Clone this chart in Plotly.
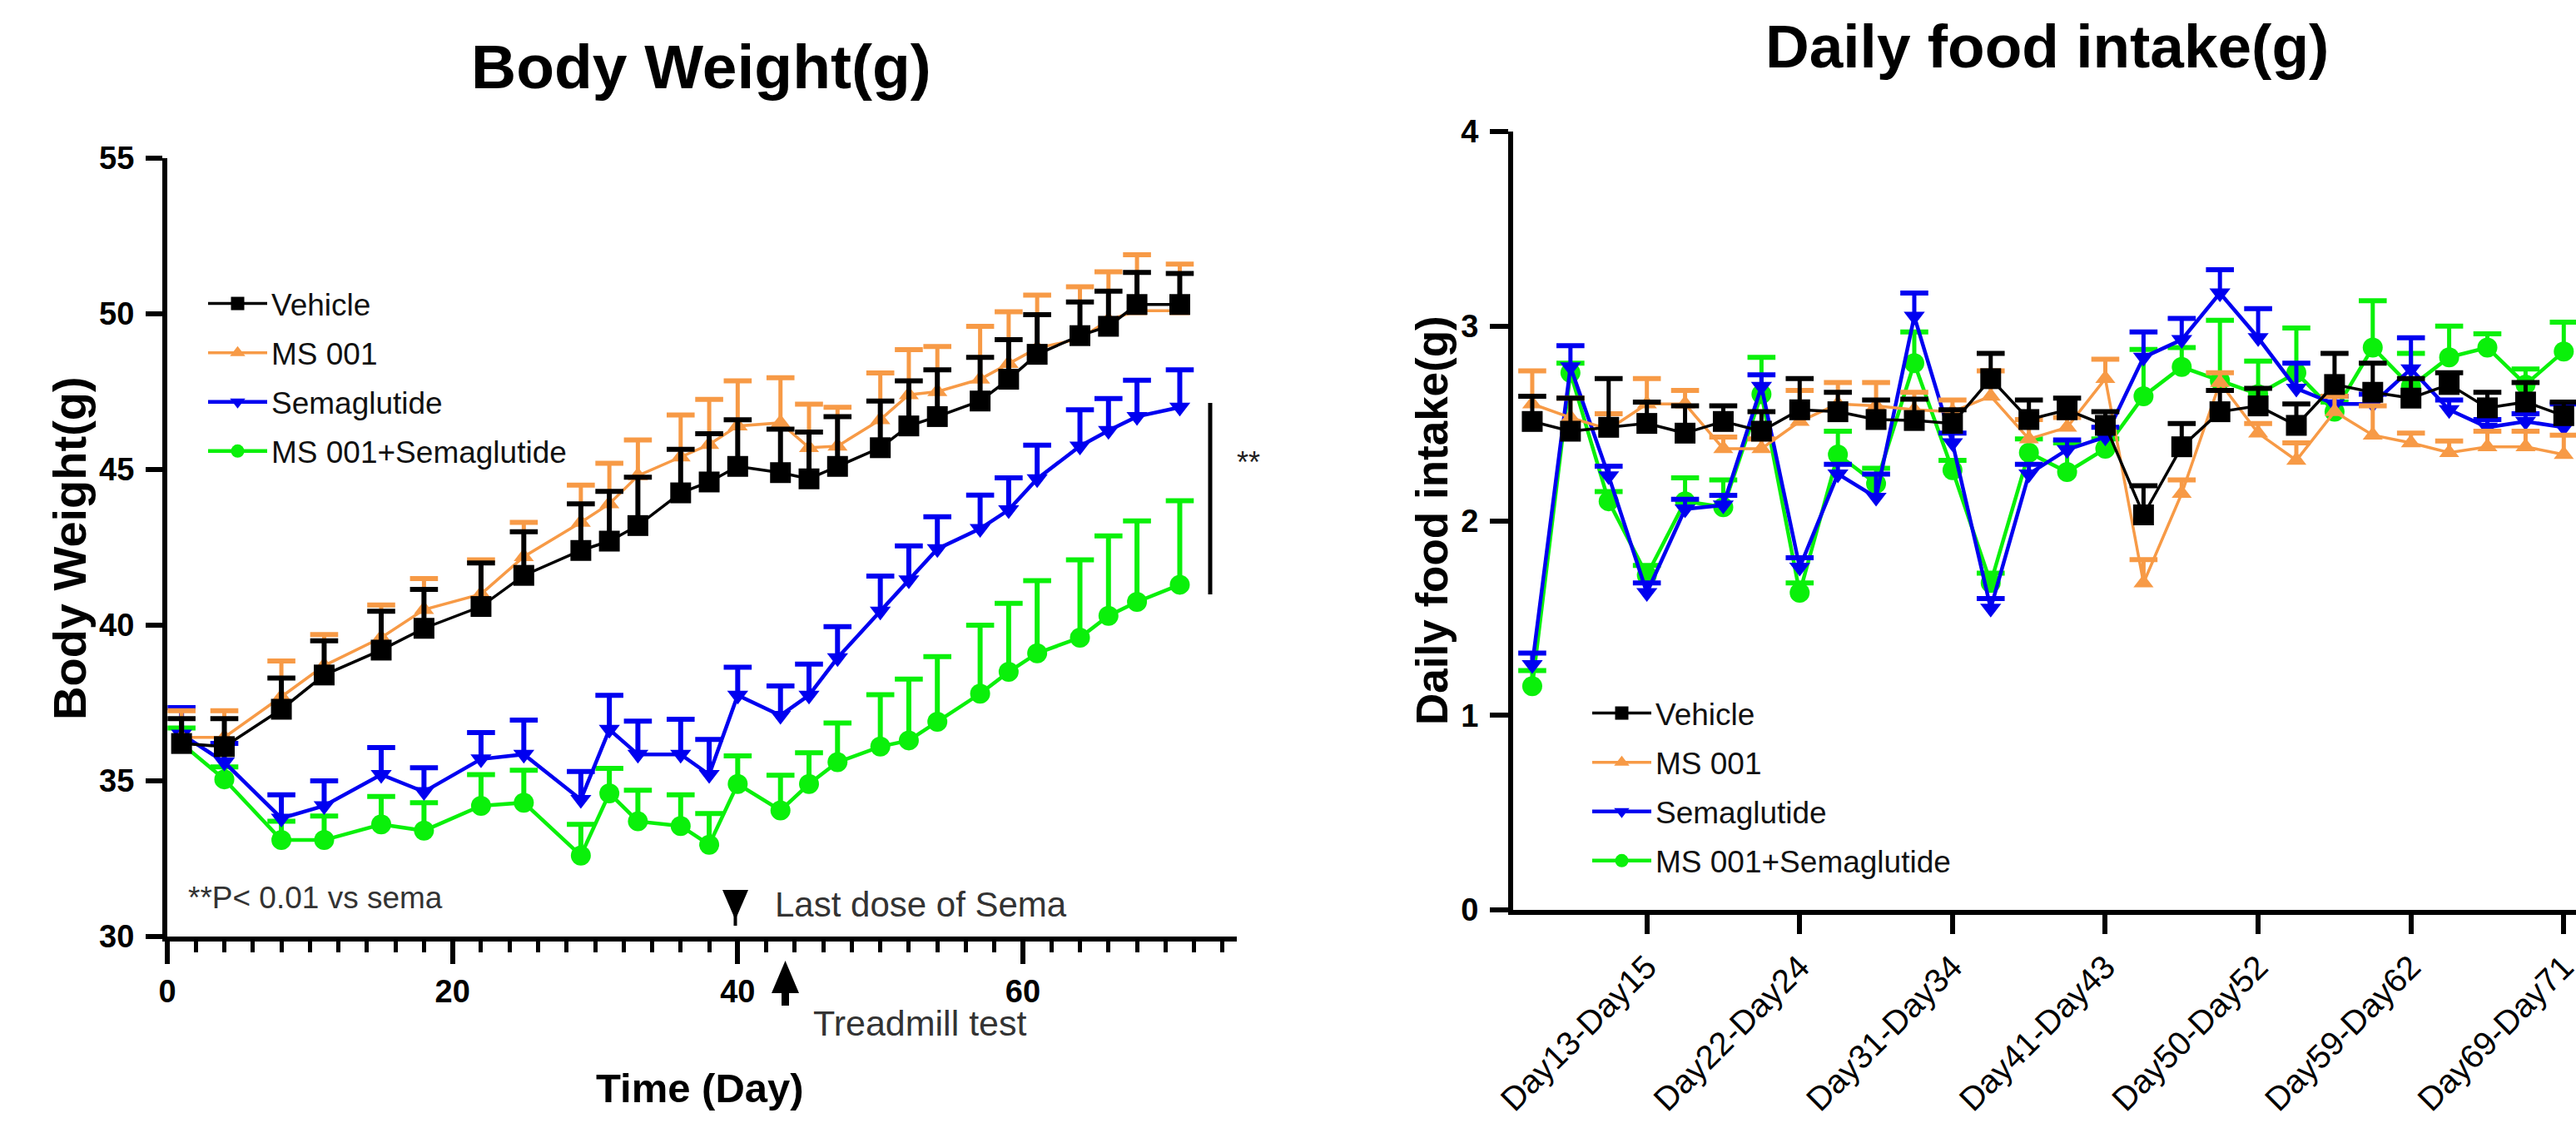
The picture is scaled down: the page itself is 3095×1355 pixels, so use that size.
import plotly.graph_objects as go

W, H = 3095, 1355
def PX(x): return x / W
def PY(y): return 1 - y / H

FONT = "Liberation Sans, Arial, sans-serif"

# ---------------- Body weight data ----------------
bw_days = [1, 4, 8, 11, 15, 18, 22, 25, 29, 31, 33, 36, 38, 40, 43, 45, 47, 50, 52, 54, 57, 59, 61, 64, 66, 68, 71]

bw_vehicle = [36.2, 36.1, 37.3, 38.4, 39.2, 39.9, 40.6, 41.6, 42.4, 42.7, 43.2, 44.25, 44.6, 45.1, 44.9, 44.7, 45.1,
              45.7, 46.4, 46.7, 47.2, 47.9, 48.7, 49.3, 49.6, 50.3, 50.3]
bw_vehicle_err = [0.8, 0.9, 1.0, 1.1, 1.25, 1.25, 1.4, 1.4, 1.5, 1.6, 1.55, 1.4, 1.55, 1.5, 1.4, 1.5, 1.6,
                  1.5, 1.45, 1.5, 1.4, 1.27, 1.27, 1.08, 1.13, 1.03, 1.0]

bw_ms001 = [36.4, 36.4, 37.7, 38.7, 39.6, 40.5, 41.0, 42.2, 43.3, 43.9, 44.8, 45.4, 45.8, 46.4, 46.5, 45.7, 45.75,
            46.6, 47.4, 47.5, 47.9, 48.4, 48.9, 49.2, 49.8, 50.1, 50.1]
bw_ms001_err = [0.85, 0.85, 1.15, 1.0, 1.05, 1.0, 1.1, 1.1, 1.2, 1.3, 1.15, 1.35, 1.45, 1.45, 1.45, 1.4, 1.25,
                1.5, 1.45, 1.45, 1.7, 1.67, 1.7, 1.67, 1.55, 1.8, 1.5]

bw_sema = [36.5, 35.6, 33.8, 34.2, 35.2, 34.65, 35.7, 35.85, 34.4, 36.65, 35.85, 35.85, 35.2, 37.75, 37.1, 37.75,
           38.95, 40.45, 41.45, 42.45, 43.1, 43.7, 44.7, 45.75, 46.25, 46.7, 47.0]
bw_sema_err = [0.85, 0.6, 0.75, 0.8, 0.87, 0.77, 0.85, 1.1, 0.9, 1.1, 1.07, 1.13, 1.13, 0.9, 0.95, 1.0,
               1.0, 1.13, 1.1, 1.03, 1.08, 1.03, 1.08, 1.17, 1.03, 1.17, 1.2]

bw_combo = [36.2, 35.05, 33.1, 33.1, 33.6, 33.4, 34.2, 34.3, 32.6, 34.6, 33.7, 33.55, 32.95, 34.9, 34.05, 34.9,
            35.6, 36.1, 36.3, 36.9, 37.8, 38.5, 39.1, 39.6, 40.3, 40.75, 41.3]
bw_combo_err = [0.5, 0.4, 0.6, 0.77, 0.9, 0.9, 1.0, 1.04, 1.0, 0.8, 1.0, 1.0, 1.0, 0.9, 1.13, 1.0,
                1.26, 1.67, 1.97, 2.09, 2.2, 2.2, 2.33, 2.5, 2.57, 2.6, 2.7]

bw_xticks = [0, 20, 40, 60]
bw_yticks = [30, 35, 40, 45, 50, 55]

# ---------------- Food intake data ----------------
fi_index = list(range(28))
fi_tickvals = [3, 7, 11, 15, 19, 23, 27]
fi_ticktext = ["Day13-Day15", "Day22-Day24", "Day31-Day34", "Day41-Day43", "Day50-Day52", "Day59-Day62", "Day69-Day71"]

fi_vehicle = [2.51, 2.46, 2.48, 2.50, 2.45, 2.51, 2.46, 2.57, 2.56, 2.52, 2.515, 2.50, 2.73, 2.52, 2.57, 2.49,
              2.03, 2.38, 2.56, 2.59, 2.49, 2.70, 2.66, 2.63, 2.70, 2.58, 2.61, 2.54]
fi_vehicle_err = [0.13, 0.17, 0.25, 0.11, 0.14, 0.08, 0.1, 0.16, 0.1, 0.1, 0.11, 0.07, 0.13, 0.1, 0.06, 0.07,
                  0.15, 0.12, 0.11, 0.09, 0.11, 0.16, 0.15, 0.1, 0.06, 0.08, 0.1, 0.07]

fi_ms001 = [2.60, 2.53, 2.47, 2.60, 2.60, 2.37, 2.37, 2.51, 2.60, 2.59, 2.57, 2.56, 2.64, 2.42, 2.48, 2.73,
            1.68, 2.14, 2.71, 2.45, 2.31, 2.56, 2.44, 2.40, 2.35, 2.38, 2.38, 2.34]
fi_ms001_err = [0.17, 0.1, 0.08, 0.13, 0.07, 0.06, 0.05, 0.16, 0.11, 0.12, 0.09, 0.06, 0.13, 0.1, 0.05, 0.1,
                0.12, 0.07, 0.05, 0.05, 0.09, 0.08, 0.15, 0.05, 0.06, 0.08, 0.08, 0.1]

fi_sema = [1.26, 2.79, 2.23, 1.63, 2.06, 2.08, 2.69, 1.76, 2.24, 2.12, 3.05, 2.40, 1.55, 2.24, 2.365, 2.43,
           2.84, 2.93, 3.17, 2.94, 2.68, 2.60, 2.60, 2.78, 2.57, 2.48, 2.51, 2.48]
fi_sema_err = [0.06, 0.11, 0.05, 0.05, 0.05, 0.05, 0.06, 0.05, 0.05, 0.12, 0.12, 0.05, 0.05, 0.05, 0.05, 0.05,
               0.13, 0.11, 0.12, 0.15, 0.13, 0.04, 0.05, 0.16, 0.05, 0.04, 0.04, 0.12]

fi_combo = [1.15, 2.76, 2.10, 1.72, 2.10, 2.07, 2.65, 1.63, 2.34, 2.19, 2.81, 2.26, 1.68, 2.35, 2.25, 2.37,
            2.64, 2.79, 2.72, 2.65, 2.76, 2.56, 2.89, 2.69, 2.84, 2.89, 2.70, 2.87]
fi_combo_err = [0.08, 0.05, 0.05, 0.05, 0.12, 0.14, 0.19, 0.05, 0.12, 0.08, 0.16, 0.05, 0.05, 0.07, 0.15, 0.05,
                0.24, 0.1, 0.31, 0.17, 0.23, 0.05, 0.24, 0.17, 0.16, 0.07, 0.08, 0.15]

C_VEH = "#000000"
C_MS = "#F79A46"
C_SEMA = "#0000F0"
C_COMBO = "#0AF00A"

fig = go.Figure()


def add_series(x, y, err, color, name, symbol, msize, lw, stem_w, xa, ya, legend, rank, cap_w=24, cap_t=6):
    sx, sy = [], []
    for xi, yi, ei in zip(x, y, err):
        sx += [xi, xi, None]
        sy += [yi, yi + ei, None]
    fig.add_trace(go.Scatter(x=sx, y=sy, mode="lines", line=dict(color=color, width=stem_w),
                             xaxis=xa, yaxis=ya, showlegend=False, hoverinfo="skip"))
    fig.add_trace(go.Scatter(x=x, y=[a + b for a, b in zip(y, err)], mode="markers",
                             marker=dict(symbol="line-ew", size=cap_w, color=color,
                                         line=dict(color=color, width=cap_t)),
                             xaxis=xa, yaxis=ya, showlegend=False, hoverinfo="skip"))
    fig.add_trace(go.Scatter(x=x, y=y, mode="lines+markers", name=name,
                             line=dict(color=color, width=lw),
                             marker=dict(symbol=symbol, size=msize, color=color, line=dict(width=0)),
                             xaxis=xa, yaxis=ya, legend=legend, legendrank=rank,
                             legendgroup=legend + name))


# left chart (draw order: combo, sema, ms001, vehicle on top)
add_series(bw_days, bw_combo, bw_combo_err, C_COMBO, "MS 001+Semaglutide", "circle", 24, 4.5, 6, "x", "y", "legend", 4)
add_series(bw_days, bw_sema, bw_sema_err, C_SEMA, "Semaglutide", "triangle-down", 22, 4.5, 6, "x", "y", "legend", 3)
add_series(bw_days, bw_ms001, bw_ms001_err, C_MS, "MS 001", "triangle-up", 21, 3.5, 5, "x", "y", "legend", 2)
add_series(bw_days, bw_vehicle, bw_vehicle_err, C_VEH, "Vehicle", "square", 25, 3.5, 6, "x", "y", "legend", 1)

# right chart
add_series(fi_index, fi_combo, fi_combo_err, C_COMBO, "MS 001+Semaglutide", "circle", 24, 4.5, 5, "x2", "y2", "legend2", 4)
add_series(fi_index, fi_sema, fi_sema_err, C_SEMA, "Semaglutide", "triangle-down", 22, 4.5, 5, "x2", "y2", "legend2", 3)
add_series(fi_index, fi_ms001, fi_ms001_err, C_MS, "MS 001", "triangle-up", 21, 3.5, 5, "x2", "y2", "legend2", 2)
add_series(fi_index, fi_vehicle, fi_vehicle_err, C_VEH, "Vehicle", "square", 25, 3.5, 5, "x2", "y2", "legend2", 1)

axis_common = dict(showline=True, linewidth=6, linecolor="black", ticks="outside", tickcolor="black",
                   tickwidth=6, showgrid=False, zeroline=False, automargin=False, ticklabeloverflow="allow")

leg_common = dict(xanchor="left", yanchor="top", itemwidth=71,
                  font=dict(family=FONT, size=37, color="#111111"), bgcolor="rgba(0,0,0,0)",
                  traceorder="grouped", tracegroupgap=8)

fig.update_layout(
    width=W, height=H,
    margin=dict(l=0, r=0, t=0, b=0, autoexpand=False),
    paper_bgcolor="white", plot_bgcolor="white",
    xaxis=dict(domain=[PX(201), PX(1486)], range=[0, 75], tickmode="array", tickvals=bw_xticks,
               ticklen=27, anchor="y",
               tickfont=dict(family=FONT, size=38, color="black", weight="bold"),
               minor=dict(tickmode="linear", tick0=0, dtick=2, ticks="outside", ticklen=13, tickwidth=5,
                          tickcolor="black", showgrid=False),
               **axis_common),
    yaxis=dict(domain=[PY(1125), PY(190)], range=[30, 55], tickmode="array", tickvals=bw_yticks,
               ticklen=20, anchor="x", ticklabelstandoff=6,
               tickfont=dict(family=FONT, size=38, color="black", weight="bold"),
               **axis_common),
    xaxis2=dict(domain=[PX(1818), 1.0], range=[-0.5, 27.32], tickmode="array", tickvals=fi_tickvals,
                ticktext=fi_ticktext, tickangle=-45, ticklen=23, anchor="y2",
                tickfont=dict(family=FONT, size=40, color="black"),
                **axis_common),
    yaxis2=dict(domain=[PY(1093), PY(158)], range=[0, 4], tickmode="linear", tick0=0, dtick=1,
                ticklen=22, anchor="x2", ticklabelstandoff=6,
                tickfont=dict(family=FONT, size=38, color="black", weight="bold"),
                **axis_common),
    legend=dict(x=PX(245), y=PY(334), **leg_common),
    legend2=dict(x=PX(1908), y=PY(826), **leg_common),
    showlegend=True,
)

ann = []
def text(x, y, s, size, bold=False, color="black", xanchor="center", angle=0):
    ann.append(dict(x=PX(x), y=PY(y), xref="paper", yref="paper", text=s, showarrow=False,
                    xanchor=xanchor, yanchor="middle", textangle=angle,
                    font=dict(family=FONT, size=size, color=color, weight="bold" if bold else "normal")))

text(842, 80, "Body Weight(g)", 75, bold=True)
text(2459, 56, "Daily food intake(g)", 73, bold=True)
text(83, 659, "Body Weight(g)", 56, bold=True, angle=-90)
text(1720, 625, "Daily food intake(g)", 53, bold=True, angle=-90)
text(841, 1307, "Time (Day)", 49, bold=True)
text(224, 1078, "**P&lt; 0.01 vs sema", 37, color="#333333", xanchor="left")
text(929, 1086, "Last dose of Sema", 42, color="#333333", xanchor="left")
text(975, 1229, "Treadmill test", 43, color="#333333", xanchor="left")
text(1500, 555, "**", 36, color="#222222")
fig.update_layout(annotations=ann)

def path(points):
    return "M " + " L ".join(f"{PX(x):.5f},{PY(y):.5f}" for x, y in points) + " Z"

shapes = [
    # significance bracket
    dict(type="line", xref="paper", yref="paper", x0=PX(1454), x1=PX(1454), y0=PY(484), y1=PY(714),
         line=dict(color="black", width=5)),
    # last dose marker (down triangle)
    dict(type="path", xref="paper", yref="paper",
         path=path([(868, 1069), (899, 1069), (883.5, 1105)]), fillcolor="black", line=dict(width=0)),
    dict(type="path", xref="paper", yref="paper",
         path=path([(881.5, 1098), (885.5, 1098), (885.5, 1112), (881.5, 1112)]), fillcolor="black",
         line=dict(width=0)),
    # treadmill arrow (up)
    dict(type="path", xref="paper", yref="paper",
         path=path([(943.5, 1154), (960, 1193), (927, 1193)]), fillcolor="black", line=dict(width=0)),
    dict(type="path", xref="paper", yref="paper",
         path=path([(939, 1190), (948, 1190), (948, 1208), (939, 1208)]), fillcolor="black",
         line=dict(width=0)),
]
fig.update_layout(shapes=shapes)

fig.write_html("out.html")
